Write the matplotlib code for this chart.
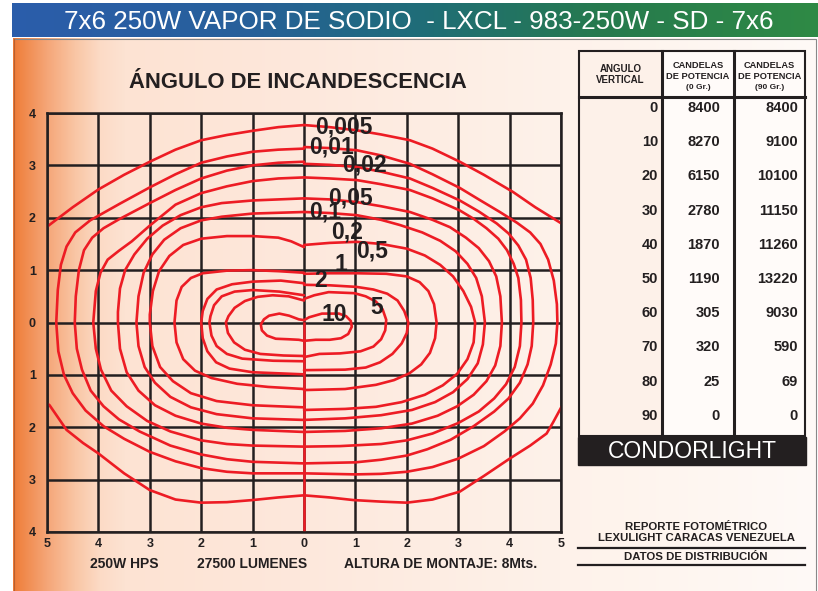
import matplotlib.pyplot as plt
import numpy as np
from matplotlib.colors import to_rgb
from matplotlib.patches import Rectangle

W, H = 818, 591

title = "7x6 250W VAPOR DE SODIO  - LXCL - 983-250W - SD - 7x6"
chart_title = "ÁNGULO DE INCANDESCENCIA"
footer = ["250W HPS", "27500 LUMENES", "ALTURA DE MONTAJE: 8Mts."]
footer_x = [124, 252, 441]

# photometric table
angles = [0, 10, 20, 30, 40, 50, 60, 70, 80, 90]
cd_0 = [8400, 8270, 6150, 2780, 1870, 1190, 305, 320, 25, 0]
cd_90 = [8400, 9100, 10100, 11150, 11260, 13220, 9030, 590, 69, 0]

x_ticks = [-5, -4, -3, -2, -1, 0, 1, 2, 3, 4, 5]
y_ticks = [-4, -3, -2, -1, 0, 1, 2, 3, 4]

# isolux labels and where they sit on the chart
levels = ["0,005", "0,01", "0,02", "0,05", "0,1", "0,2", "0,5", "1", "2", "5", "10"]
label_x = [0.78, 0.54, 1.17, 0.91, 0.41, 0.84, 1.32, 0.72, 0.33, 1.42, 0.58]
label_y = [3.74, 3.35, 3.00, 2.37, 2.11, 1.73, 1.36, 1.10, 0.81, 0.29, 0.16]

# isolux curves: left halves (x <= 0), top to bottom
left_a = [(0, 3.77), (-0.5, 3.73), (-1, 3.66), (-1.5, 3.58), (-2, 3.48), (-2.5, 3.3), (-3, 3.07),
          (-3.5, 2.82), (-4, 2.54), (-4.5, 2.2), (-5.2, 1.68), (-5.8, 0), (-5.2, -1.4),
          (-4.95, -1.58), (-4.62, -2.05), (-4.3, -2.3), (-4, -2.5), (-3.5, -2.88), (-3, -3.2),
          (-2.5, -3.38), (-2, -3.44), (-1.5, -3.43), (-1, -3.39), (-0.5, -3.34), (0, -3.30)]
left_b = [(0, 3.32), (-0.5, 3.3), (-1, 3.26), (-1.5, 3.17), (-2, 3.05), (-2.5, 2.83), (-3, 2.58),
          (-3.58, 2.27), (-4.16, 1.95), (-4.45, 1.72), (-4.62, 1.45), (-4.73, 1.1), (-4.79, 0.62),
          (-4.82, 0), (-4.78, -0.55), (-4.67, -1.0), (-4.5, -1.35), (-4.25, -1.68), (-3.9, -1.98),
          (-3.5, -2.22), (-3, -2.47), (-2.5, -2.65), (-2, -2.78), (-1.5, -2.85), (-1, -2.88),
          (0, -2.88)]
left_c = [(0, 3.07), (-0.5, 3.05), (-1, 3.0), (-1.5, 2.9), (-2, 2.75), (-2.5, 2.53), (-3, 2.28),
          (-3.6, 1.97), (-3.9, 1.8), (-4.12, 1.62), (-4.28, 1.38), (-4.38, 1.0), (-4.44, 0.5),
          (-4.46, 0), (-4.42, -0.5), (-4.32, -0.9), (-4.15, -1.3), (-3.9, -1.6), (-3.6, -1.85),
          (-3.2, -2.08), (-2.6, -2.35), (-2, -2.52), (-1.5, -2.61), (-1, -2.66), (0, -2.69)]
left_d = [(0, 2.77), (-0.5, 2.75), (-1, 2.7), (-1.5, 2.6), (-2, 2.47), (-2.5, 2.25), (-3, 1.85),
          (-3.35, 1.55), (-3.6, 1.37), (-3.82, 1.2), (-3.96, 0.95), (-4.05, 0.6), (-4.1, 0),
          (-4.05, -0.5), (-3.95, -0.9), (-3.75, -1.3), (-3.45, -1.6), (-3.05, -1.88),
          (-2.6, -2.08), (-2, -2.25), (-1.5, -2.32), (-1, -2.35), (0, -2.37)]
left_e = [(0, 2.37), (-1, 2.33), (-1.6, 2.28), (-2, 2.2), (-2.4, 2.05), (-2.75, 1.85), (-3.05, 1.6),
          (-3.3, 1.3), (-3.48, 1.0), (-3.58, 0.65), (-3.62, 0.2), (-3.62, 0), (-3.58, -0.5),
          (-3.45, -0.95), (-3.22, -1.3), (-2.9, -1.58), (-2.5, -1.78), (-2, -1.93), (-1.5, -2.01),
          (-1, -2.05), (0, -2.09)]
left_f = [(0, 2.11), (-1, 2.08), (-1.6, 2.02), (-2, 1.95), (-2.4, 1.8), (-2.72, 1.58), (-2.95, 1.3),
          (-3.12, 0.95), (-3.22, 0.5), (-3.26, 0), (-3.22, -0.45), (-3.1, -0.85), (-2.9, -1.15),
          (-2.6, -1.42), (-2.2, -1.62), (-1.7, -1.75), (-1.0, -1.83), (0, -1.86)]
left_g = [(0, 1.44), (-0.25, 1.55), (-0.5, 1.62), (-1, 1.65), (-1.5, 1.65), (-2, 1.6), (-2.35, 1.48),
          (-2.62, 1.27), (-2.82, 0.98), (-2.94, 0.6), (-3.0, 0.15), (-3.0, 0), (-2.95, -0.45),
          (-2.8, -0.85), (-2.55, -1.12), (-2.2, -1.35), (-1.7, -1.5), (-1.0, -1.58), (0, -1.62)]
left_h = [(0, 0.95), (-0.5, 0.98), (-1, 1.0), (-1.5, 0.99), (-1.97, 0.94), (-2.2, 0.85),
          (-2.38, 0.68), (-2.48, 0.42), (-2.52, 0), (-2.48, -0.38), (-2.35, -0.7), (-2.12, -0.92),
          (-1.8, -1.06), (-1.3, -1.17), (-0.7, -1.23), (0, -1.27)]
left_i = [(0, 0.75), (-0.45, 0.8), (-1, 0.78), (-1.4, 0.73), (-1.7, 0.63), (-1.88, 0.45),
          (-1.97, 0.22), (-2.0, 0), (-1.97, -0.3), (-1.88, -0.55), (-1.71, -0.76), (-1.45, -0.88),
          (-1.0, -0.95), (0, -0.99)]
left_j = [(0, 0.52), (-0.48, 0.59), (-1, 0.62), (-1.35, 0.59), (-1.6, 0.5), (-1.75, 0.33),
          (-1.82, 0.12), (-1.84, 0), (-1.8, -0.25), (-1.7, -0.45), (-1.5, -0.6), (-1.2, -0.69),
          (-0.6, -0.73), (0, -0.74)]
left_k = [(0, 0.42), (-0.3, 0.5), (-0.61, 0.52), (-0.9, 0.49), (-1.15, 0.41), (-1.35, 0.28),
          (-1.47, 0.12), (-1.52, 0), (-1.48, -0.2), (-1.36, -0.38), (-1.15, -0.52), (-0.85, -0.6),
          (-0.4, -0.63), (0, -0.64)]
left_l = [(0, 0.045), (-0.1, 0.06), (-0.29, 0.13), (-0.48, 0.17), (-0.68, 0.13), (-0.78, 0.06),
          (-0.84, -0.04), (-0.82, -0.15), (-0.72, -0.25), (-0.55, -0.31), (-0.3, -0.32),
          (-0.1, -0.33), (0, -0.35)]

# right halves (x >= 0)
right_a = [(0, 3.77), (0.5, 3.73), (1.02, 3.67), (1.5, 3.59), (2.06, 3.48), (2.5, 3.32), (3.03, 3.07),
           (3.5, 2.82), (4.07, 2.49), (4.5, 2.2), (5.01, 1.89), (5.3, 1.6), (5.8, 0), (5.3, -1.3),
           (5.01, -1.61), (4.85, -1.9), (4.72, -2.12), (4.4, -2.35), (4.0, -2.6), (3.5, -2.93),
           (3.03, -3.23), (2.5, -3.38), (2.0, -3.44), (1.5, -3.42), (0.96, -3.39), (0.5, -3.34),
           (0, -3.30)]
right_b = [(0, 3.35), (0.5, 3.33), (1.02, 3.29), (1.5, 3.19), (2.06, 3.03), (2.5, 2.83), (3.03, 2.57),
           (3.4, 2.35), (3.81, 2.11), (4.15, 1.9), (4.4, 1.72), (4.6, 1.5), (4.75, 1.2), (4.86, 0.8),
           (4.92, 0.35), (4.93, 0), (4.9, -0.4), (4.8, -0.8), (4.65, -1.2), (4.45, -1.55),
           (4.2, -1.83), (3.9, -2.08), (3.5, -2.36), (3.0, -2.6), (2.5, -2.76), (2, -2.85),
           (1.5, -2.89), (1, -2.9), (0, -2.88)]
right_c = [(0, 3.03), (0.5, 3.01), (1.02, 2.97), (1.5, 2.88), (2.06, 2.75), (2.5, 2.57), (3.03, 2.33),
           (3.4, 2.12), (3.75, 1.89), (3.98, 1.7), (4.17, 1.47), (4.32, 1.2), (4.41, 0.85),
           (4.45, 0.43), (4.46, 0), (4.43, -0.45), (4.35, -0.8), (4.2, -1.15), (3.98, -1.45),
           (3.7, -1.7), (3.3, -1.98), (2.85, -2.24), (2.4, -2.42), (2, -2.54), (1.5, -2.62),
           (1, -2.67), (0, -2.69)]
right_d = [(0, 2.77), (0.5, 2.75), (1.02, 2.72), (1.5, 2.64), (2.06, 2.53), (2.5, 2.37), (3.03, 2.14),
           (3.3, 1.98), (3.55, 1.8), (3.78, 1.6), (3.95, 1.38), (4.08, 1.12), (4.17, 0.85),
           (4.22, 0.43), (4.23, 0), (4.2, -0.45), (4.1, -0.85), (3.93, -1.18), (3.7, -1.45),
           (3.4, -1.7), (3.0, -1.92), (2.5, -2.12), (2.0, -2.25), (1.5, -2.32), (0.7, -2.36),
           (0, -2.37)]
right_e = [(0, 2.37), (0.5, 2.35), (1.02, 2.3), (1.5, 2.22), (2.06, 2.11), (2.5, 1.96), (2.84, 1.82),
           (3.15, 1.62), (3.4, 1.42), (3.6, 1.17), (3.74, 0.88), (3.82, 0.5), (3.85, 0),
           (3.82, -0.45), (3.72, -0.82), (3.55, -1.12), (3.3, -1.38), (2.98, -1.6), (2.6, -1.78),
           (2.1, -1.93), (1.5, -2.02), (0.8, -2.07), (0, -2.09)]
right_f = [(0, 2.11), (0.5, 2.09), (1.02, 2.05), (1.5, 1.96), (1.87, 1.86), (2.3, 1.72), (2.65, 1.56),
           (2.95, 1.36), (3.18, 1.12), (3.35, 0.85), (3.46, 0.5), (3.52, 0), (3.48, -0.42),
           (3.38, -0.78), (3.18, -1.08), (2.9, -1.33), (2.55, -1.52), (2.1, -1.67), (1.5, -1.77),
           (0.8, -1.83), (0, -1.86)]
right_g = [(0, 1.48), (0.5, 1.52), (1.02, 1.54), (1.5, 1.5), (2.0, 1.41), (2.35, 1.28), (2.65, 1.1),
           (2.9, 0.88), (3.1, 0.6), (3.25, 0.3), (3.33, 0), (3.3, -0.38), (3.18, -0.7),
           (2.98, -0.98), (2.7, -1.2), (2.35, -1.38), (1.9, -1.52), (1.4, -1.61), (0.8, -1.65),
           (0, -1.67)]
right_h = [(0, 0.93), (0.5, 0.94), (1.02, 0.94), (1.6, 0.93), (2.0, 0.88), (2.25, 0.77), (2.42, 0.6),
           (2.53, 0.35), (2.58, 0), (2.55, -0.3), (2.45, -0.58), (2.28, -0.8), (2.05, -0.97),
           (1.75, -1.1), (1.4, -1.19), (0.8, -1.27), (0, -1.29)]
right_i = [(0, 0.72), (0.5, 0.71), (1.02, 0.68), (1.35, 0.63), (1.62, 0.55), (1.82, 0.42),
           (1.95, 0.22), (2.03, 0), (2.0, -0.2), (1.9, -0.4), (1.72, -0.6), (1.48, -0.76),
           (1.2, -0.86), (0.8, -0.9), (0, -0.91)]
right_k = [(0, 0.45), (0.2, 0.52), (0.48, 0.58), (0.98, 0.56), (1.2, 0.5), (1.4, 0.4), (1.53, 0.25),
           (1.6, 0.05), (1.58, -0.15), (1.5, -0.32), (1.35, -0.46), (1.1, -0.55), (0.7, -0.59),
           (0.3, -0.6), (0, -0.66)]
right_l = [(0, 0.045), (0.1, 0.1), (0.35, 0.17), (0.68, 0.17), (0.82, 0.12), (0.91, 0.03),
           (0.93, -0.08), (0.86, -0.22), (0.72, -0.3), (0.5, -0.33), (0.23, -0.33), (0, -0.35)]

curves = [left_a, left_b, left_c, left_d, left_e, left_f, left_g, left_h, left_i, left_j, left_k,
          left_l, right_a, right_b, right_c, right_d, right_e, right_f, right_g, right_h, right_i,
          right_k, right_l]

RED = "#ed1c24"
INK = "#231f20"


def gradient(stops, colors, x0, x1):
    xs = np.arange(x0, x1)
    rgb = np.array([to_rgb(c) for c in colors])
    img = np.stack([np.interp(xs, stops, rgb[:, k]) for k in range(3)], axis=-1)
    return img[np.newaxis, :, :]


fig = plt.figure(figsize=(W / 100, H / 100), dpi=100)
bg = fig.add_axes([0, 0, 1, 1])
bg.set_xlim(0, W)
bg.set_ylim(H, 0)
bg.axis("off")

# orange panel and blue-green title bar
bg.imshow(gradient([13, 20, 47, 75, 100, 125, 300, 560, 816],
                   ["#ee7a36", "#f08545", "#f5a678", "#f9c6a5", "#fcdbc6", "#fde3d3",
                    "#fde8dc", "#fef2ea", "#fffaf7"], 13, 816),
          extent=(13, 816, 591, 38), aspect="auto", interpolation="bilinear", zorder=0)
bg.imshow(gradient([12, 250, 420, 600, 818],
                   ["#2b5dab", "#27609a", "#1f6d78", "#267a4e", "#2f8a45"], 12, 818),
          extent=(12, 818, 37, 3), aspect="auto", interpolation="bilinear", zorder=0)
bg.plot([13.5, 815.5, 815.5], [38.5, 38.5, 591], color="#888888", lw=0.8, zorder=1)
bg.plot([13.5, 13.5], [38.5, 591], color="#b86030", lw=0.8, zorder=1)

bg.text(419, 22, title, color="white", fontsize=18.7, ha="center", va="center",
        family="Liberation Sans", zorder=2)
bg.text(298, 83, chart_title, color=INK, fontsize=15.8, fontweight="bold",
        ha="center", va="center", family="Liberation Sans")
for s, x in zip(footer, footer_x):
    bg.text(x, 564, s, color=INK, fontsize=10, fontweight="bold", ha="center", va="center",
            family="Liberation Sans")

# table
cols = [579, 662, 734, 805]
top, head_bot, bottom = 51, 97, 436
bg.add_patch(Rectangle((cols[0], top), cols[1] - cols[0], bottom - top, color="#fdf1e9", zorder=1))
bg.add_patch(Rectangle((cols[1], top), cols[3] - cols[1], bottom - top, color="#fffbf9", zorder=1))
bg.add_patch(Rectangle((cols[0], top), cols[3] - cols[0], bottom - top, fill=False,
                       ec=INK, lw=1.5, zorder=3))
for c in cols[1:3]:
    bg.plot([c, c], [top, bottom], color=INK, lw=2.2, zorder=3)
bg.plot([cols[0], cols[3]], [head_bot, head_bot], color=INK, lw=2.2, zorder=3)

hdr = dict(color=INK, fontweight="bold", ha="center", va="center", family="Liberation Sans", zorder=4)
bg.text(620.5, 69, "ANGULO", fontsize=7.0, **hdr)
bg.text(620.5, 80, "VERTICAL", fontsize=7.0, **hdr)
for cx, g in [(698, "(0 Gr.)"), (769.5, "(90 Gr.)")]:
    bg.text(cx, 66, "CANDELAS", fontsize=6.7, **hdr)
    bg.text(cx, 76.5, "DE POTENCIA", fontsize=6.7, **hdr)
    bg.text(cx, 87.5, g, fontsize=6.0, **hdr)

cell = dict(color=INK, fontsize=10.5, fontweight="bold", ha="right", va="center",
            family="Liberation Sans", zorder=4)
for i, (a, c0, c90) in enumerate(zip(angles, cd_0, cd_90)):
    y = 108 + 34.2 * i
    bg.text(658, y, str(a), **cell)
    bg.text(720, y, str(c0), **cell)
    bg.text(798, y, str(c90), **cell)

bg.add_patch(Rectangle((578, 437), 227.5, 27.5, color=INK, zorder=3))
bg.text(692, 451.5, "CONDORLIGHT", color="white", fontsize=16.5, ha="center", va="center",
        family="Liberation Sans", zorder=4)

note = dict(color=INK, fontsize=8.2, fontweight="bold", ha="center", va="center",
            family="Liberation Sans")
bg.text(696, 526.5, "REPORTE FOTOMÉTRICO", **note)
bg.text(696, 538, "LEXULIGHT CARACAS VENEZUELA", **note)
bg.text(696, 557, "DATOS DE DISTRIBUCIÓN", **note)
for y in (548, 564.5):
    bg.plot([578, 805], [y, y], color=INK, lw=1.6)

# isolux chart
ax = fig.add_axes([47 / W, 1 - 532 / H, (561 - 47) / W, (532 - 113) / H])
ax.set_facecolor("none")
ax.set_xlim(-5, 5)
ax.set_ylim(-4, 4)
for v in x_ticks:
    ax.axvline(v, color=INK, lw=1.8, zorder=1)
for v in y_ticks:
    ax.axhline(v, color=INK, lw=1.8, zorder=1)
for sp in ax.spines.values():
    sp.set_linewidth(1.8)
    sp.set_color(INK)
ax.set_xticks(x_ticks)
ax.set_xticklabels([str(abs(v)) for v in x_ticks])
ax.set_yticks(y_ticks)
ax.set_yticklabels([str(abs(v)) for v in y_ticks])
ax.tick_params(length=0, labelsize=9, labelcolor=INK)
ax.tick_params(axis="y", pad=8)
ax.tick_params(axis="x", pad=4)
for t in ax.get_xticklabels() + ax.get_yticklabels():
    t.set_fontweight("bold")
    t.set_family("Liberation Sans")

ax.plot([0, 0], [-4, 0], color=RED, lw=1.8, zorder=2)
for pts in curves:
    xs, ys = zip(*pts)
    ax.plot(xs, ys, color=RED, lw=1.9, solid_joinstyle="round", solid_capstyle="round", zorder=2)

for s, x, y in zip(levels, label_x, label_y):
    ax.text(x, y, s, fontsize=16.5, fontweight="bold", color=INK, ha="center", va="center",
            family="Liberation Sans", zorder=4)

fig.savefig("out.png", dpi=100)
